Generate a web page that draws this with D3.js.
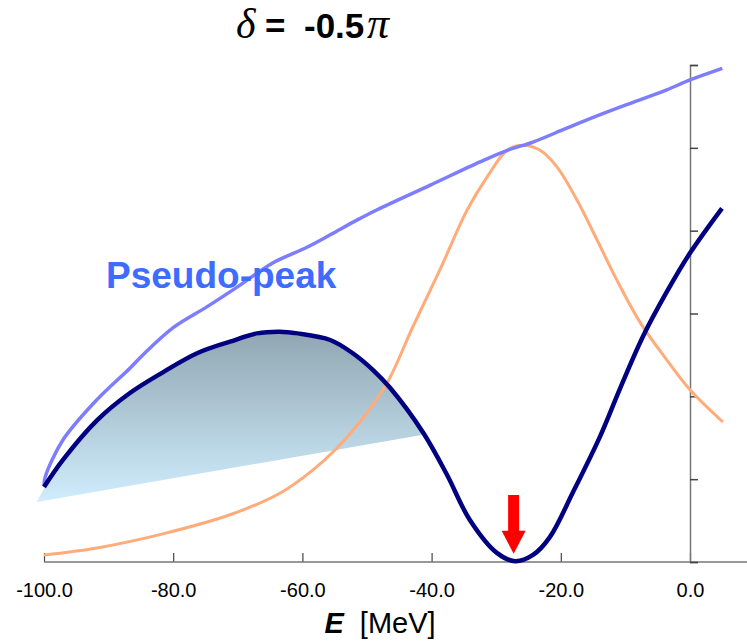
<!DOCTYPE html>
<html>
<head>
<meta charset="utf-8">
<script src="https://cdn.jsdelivr.net/npm/d3@7"></script>
<style>
  body { margin: 0; background: #fff; }
  svg { display: block; }
</style>
</head>
<body>
<svg id="chart" width="747" height="643"></svg>
<script>
// x ticks [MeV]
let xTicks = [-100, -80, -60, -40, -20, 0];
let yTicks = [0, 1, 2, 3, 4, 5, 6];

// light blue curve
let blueE = [-100, -99.8, -97.1, -91.8, -86.7, -84.7, -80.0, -74.8, -69.7, -64.6, -59.3, -55.7, -51.5, -48.5, -40.2, -32.5, -28.3, -24.3, -19.0, -13.9, -8.8, -3.6, 0, 5.0];
let blueV = [0.93, 1.03, 1.47, 1.96, 2.34, 2.50, 2.83, 3.08, 3.34, 3.61, 3.80, 3.95, 4.13, 4.25, 4.55, 4.83, 4.97, 5.07, 5.24, 5.40, 5.55, 5.70, 5.82, 5.96];

// navy curve
let navyE = [-100, -97.1, -91.8, -86.7, -81.6, -76.3, -71.2, -67.0, -63.5, -60.8, -55.7, -52.2, -49.1, -46.4, -41.3, -37.6, -34.1, -29.9, -27.1, -24.3, -21.7, -18.1, -13.9, -10.8, -7.3, -3.6, 0, 4.95];
let navyV = [0.905, 1.23, 1.71, 2.04, 2.29, 2.52, 2.66, 2.76, 2.78, 2.76, 2.68, 2.52, 2.32, 2.10, 1.56, 1.05, 0.51, 0.11, 0.01, 0.085, 0.30, 0.845, 1.52, 2.10, 2.72, 3.26, 3.73, 4.27];

// orange curve
let orangeE = [-100, -91.8, -81.6, -71.2, -63.5, -58.4, -54.6, -51.1, -46.9, -42.9, -38.7, -34.5, -31.4, -28.3, -25.9, -23.2, -20.6, -17.5, -14.4, -11.3, -7.7, -3.6, 0, 5.1];
let orangeV = [0.085, 0.17, 0.34, 0.57, 0.83, 1.11, 1.38, 1.69, 2.16, 2.84, 3.53, 4.25, 4.65, 4.97, 5.03, 4.97, 4.77, 4.37, 3.89, 3.40, 2.89, 2.44, 2.08, 1.69];

// shaded pseudo-peak: start corner and end on navy curve
let shadeStart = [-101.1, 0.75];
let shadeEnd = [-41.3, 1.56];

// arrow at the minimum
let arrowE = -27.3;
let arrowTop = 0.81;
let arrowTip = 0.10;

let svg = d3.select("#chart");
let W = 747;
let font = "Liberation Sans, Arial, sans-serif";

let x = d3.scaleLinear().domain([-100, 0]).range([44, 690]);
let y = d3.scaleLinear().domain([0, 6]).range([562, 65]);

function pts(es, vs) {
    return es.map(function (e, i) { return [e, vs[i]]; });
}

let line = d3.line()
    .x(function (d) { return x(d[0]); })
    .y(function (d) { return y(d[1]); })
    .curve(d3.curveCatmullRom.alpha(0.5));

// gradient for the shaded area
let defs = svg.append("defs");
let grad = defs.append("linearGradient")
    .attr("id", "shade")
    .attr("x1", 0).attr("y1", 0).attr("x2", 0).attr("y2", 1);
grad.append("stop").attr("offset", "0%").attr("stop-color", "#91a7b3");
grad.append("stop").attr("offset", "100%").attr("stop-color", "#d0edfd");

// shaded polygon: curved top along navy, straight line back to the corner
let navyPts = pts(navyE, navyV);
let shadePts = [shadeStart].concat(navyPts.filter(function (d) {
    return d[0] < shadeEnd[0];
}), [shadeEnd]);
let shadeTop = d3.line()
    .x(function (d) { return x(d[0]); })
    .y(function (d) { return y(d[1]) + 2; })
    .curve(d3.curveCatmullRom.alpha(0.5));
svg.append("path")
    .attr("d", shadeTop(shadePts) + "Z")
    .attr("fill", "url(#shade)");

// x axis
let xAxis = d3.axisBottom(x)
    .tickValues(xTicks)
    .tickSizeInner(-9)
    .tickSizeOuter(0)
    .tickPadding(21)
    .tickFormat(function (d) { return d.toFixed(1); });
let gx = svg.append("g")
    .attr("transform", "translate(0," + y(0) + ")")
    .call(xAxis);
gx.select(".domain").remove();
gx.selectAll(".tick line").attr("stroke", "#444").attr("stroke-width", 1.2);
gx.selectAll("text")
    .attr("font-family", font)
    .attr("font-size", 20)
    .attr("fill", "#000");
svg.append("line")
    .attr("x1", x(-100)).attr("x2", W)
    .attr("y1", y(0)).attr("y2", y(0))
    .attr("stroke", "#777").attr("stroke-width", 1.5);

// right axis at E = 0
let yAxis = d3.axisRight(y)
    .tickValues(yTicks)
    .tickSize(8)
    .tickFormat("");
let gy = svg.append("g")
    .attr("transform", "translate(" + x(0) + ",0)")
    .call(yAxis);
gy.select(".domain").attr("stroke", "#777").attr("stroke-width", 1.5);
gy.selectAll(".tick line").attr("stroke", "#444").attr("stroke-width", 1.5);

// curves
svg.append("path")
    .attr("d", line(pts(orangeE, orangeV)))
    .attr("fill", "none")
    .attr("stroke", "#ffab7a")
    .attr("stroke-width", 3);

svg.append("path")
    .attr("d", line(pts(blueE, blueV)))
    .attr("fill", "none")
    .attr("stroke", "#7d7dff")
    .attr("stroke-width", 3.5);

svg.append("path")
    .attr("d", line(navyPts))
    .attr("fill", "none")
    .attr("stroke", "#000080")
    .attr("stroke-width", 4.5)
    .attr("stroke-linejoin", "round");

// red arrow
let ax = x(arrowE);
let yTop = y(arrowTop);
let yTip = y(arrowTip);
let yHead = yTip - 23;
svg.append("path")
    .attr("d", "M" + (ax - 5.5) + "," + yTop +
        "L" + (ax + 5.5) + "," + yTop +
        "L" + (ax + 5.5) + "," + yHead +
        "L" + (ax + 12) + "," + yHead +
        "L" + ax + "," + yTip +
        "L" + (ax - 12) + "," + yHead +
        "L" + (ax - 5.5) + "," + yHead + "Z")
    .attr("fill", "#ff0000");

// label
svg.append("text")
    .attr("x", 106)
    .attr("y", 288)
    .attr("font-family", font)
    .attr("font-weight", "bold")
    .attr("font-size", 37)
    .attr("fill", "#3d6cff")
    .text("Pseudo-peak");

// title
let title = svg.append("text")
    .attr("y", 38)
    .attr("font-family", font)
    .attr("font-weight", "bold")
    .attr("font-size", 35)
    .attr("fill", "#000");
title.append("tspan")
    .attr("x", 236)
    .attr("font-family", "Liberation Serif, serif")
    .attr("font-style", "italic")
    .attr("font-weight", "normal")
    .attr("font-size", 42)
    .text("\u03b4");
title.append("tspan").attr("x", 265).text("=");
title.append("tspan").attr("x", 304).text("-0.5");
title.append("tspan")
    .attr("x", 367)
    .attr("font-family", "Liberation Serif, serif")
    .attr("font-style", "italic")
    .attr("font-weight", "normal")
    .attr("font-size", 44)
    .text("\u03c0");

// x axis title
let xt = svg.append("text")
    .attr("x", 380)
    .attr("y", 633)
    .attr("text-anchor", "middle")
    .attr("font-family", font)
    .attr("font-size", 29)
    .attr("fill", "#000")
    .attr("xml:space", "preserve");
xt.append("tspan").attr("font-weight", "bold").attr("font-style", "italic").text("E");
xt.append("tspan").text("  [MeV]");
</script>
</body>
</html>
